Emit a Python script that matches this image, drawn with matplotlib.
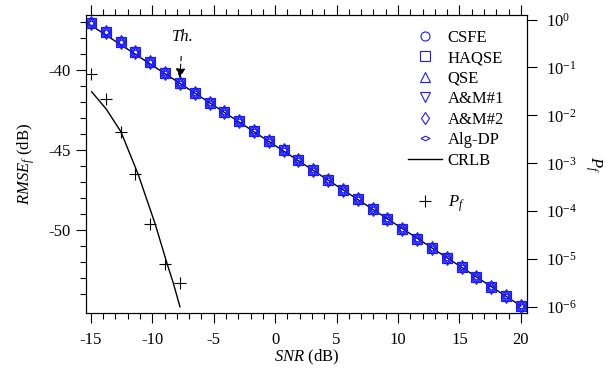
import matplotlib
matplotlib.use("Agg")
import matplotlib.pyplot as plt
import numpy as np
from matplotlib.lines import Line2D
from matplotlib.ticker import MultipleLocator, FixedLocator, LogLocator, NullLocator

plt.rcParams['font.family'] = ['Liberation Serif', 'DejaVu Serif']
plt.rcParams['font.size'] = 12
plt.rcParams['mathtext.fontset'] = 'custom'
plt.rcParams['mathtext.rm'] = 'Liberation Serif'
plt.rcParams['mathtext.it'] = 'Liberation Serif:italic'
plt.rcParams['axes.unicode_minus'] = False

# SNR grid (dB)
snr = np.linspace(-15, 20, 30)
# RMSE of the estimators (dB), all methods overlap
rmse = [-37.06, -37.64, -38.25, -38.89, -39.48, -40.17, -40.79, -41.46, -42.08, -42.61,
        -43.21, -43.81, -44.42, -45.00, -45.63, -46.25, -46.88, -47.47, -48.08, -48.71,
        -49.33, -49.92, -50.54, -51.14, -51.73, -52.33, -52.96, -53.54, -54.13, -54.75]
crlb_snr = [-15, 20]
crlb = [-37.2, -54.75]

# P_f simulated (crosses) and theory (solid)
pf_snr = snr[:7]
pf_sim = [7.2e-2, 2.16e-2, 4.55e-3, 5.9e-4, 5.3e-5, 7.9e-6, 3.2e-6]
pf_th_snr = [-14.94, -13.75, -12.56, -11.15, -9.76, -8.79, -8.30, -7.75]
pf_th = [3.11e-2, 1.35e-2, 4.55e-3, 5.86e-4, 5.30e-5, 7.87e-6, 3.20e-6, 1.01e-6]

blue = '#1a1aff'
flat_diamond = [(-1, 0), (0, 0.5), (1, 0), (0, -0.5), (-1, 0)]
methods = ['CSFE', 'HAQSE', 'QSE', 'A&M#1', 'A&M#2', 'Alg-DP']
markers = ['o', 's', '^', 'v', 'd', flat_diamond]

fig = plt.figure(figsize=(6.13, 3.77), dpi=100)
ax = fig.add_axes([0.1403, 0.1698, 0.7194, 0.7904])
ax2 = ax.twinx()

handles = []
for m in markers:
    ax.plot(snr, rmse, linestyle='none', marker=m, ms=7, mfc='none', mec=blue, mew=0.8)
    handles.append(Line2D([], [], linestyle='none', marker=m, ms=6.5, mfc='none', mec=blue, mew=0.8))
ax.plot(crlb_snr, crlb, color='black', lw=1.0, zorder=1)
handles.append(Line2D([], [], color='black', lw=1.0))
handles.append(Line2D([], [], linestyle='none'))
handles.append(Line2D([], [], linestyle='none', marker='+', ms=8, color='black', mew=0.8))
labels = methods + ['CRLB', ' ', r'$P_f$']

ax2.plot(pf_snr, pf_sim, linestyle='none', marker='+', ms=8, color='black', mew=0.8)
ax2.plot(pf_th_snr, pf_th, color='black', lw=1.0)

ax.set_xlim(-15.4, 20.5)
ax.set_ylim(-55.19, -36.56)
ax2.set_yscale('log')
ax2.set_ylim(10 ** -6.125, 10 ** 0.094)

ax.xaxis.set_major_locator(MultipleLocator(5))
ax.xaxis.set_minor_locator(MultipleLocator(1))
ax.yaxis.set_major_locator(FixedLocator([-50, -45, -40]))
ax.yaxis.set_minor_locator(FixedLocator(np.arange(-54, -36)))
ax.tick_params(which='both', direction='out', top=True, right=False, labelsize=12)
ax.tick_params(which='major', length=7.5, width=0.8)
ax.tick_params(which='minor', length=4.5, width=0.8)
ax.tick_params(axis='x', which='major', pad=6)
ax2.yaxis.set_major_locator(LogLocator(base=10, numticks=10))
ax2.yaxis.set_minor_locator(NullLocator())
ax2.tick_params(which='major', direction='out', length=7.5, width=0.8, labelsize=12, pad=6.5)

ax.set_xlabel(r'$SNR$ (dB)', fontsize=12, labelpad=0)
ax.set_ylabel(r'$RMSE_f$ (dB)', fontsize=12, labelpad=8.5)
ax2.set_ylabel(r'$P_f$', fontsize=12, rotation=270, labelpad=19)

ax.annotate('Th.', xy=(-7.76, -40.5), xytext=(-7.55, -37.95), ha='center', va='center',
            fontsize=12, fontstyle='italic',
            arrowprops=dict(arrowstyle='-|>', linestyle=(0, (4, 3)), color='black', lw=0.8,
                            mutation_scale=14, shrinkA=6, shrinkB=0))

ax.legend(handles, labels, loc='upper right', bbox_to_anchor=(0.948, 0.951), frameon=False,
          fontsize=12, labelspacing=0.27, handlelength=2.05, handletextpad=0.35,
          borderaxespad=0.0, borderpad=0.0)

fig.savefig('out.png', dpi=100)
